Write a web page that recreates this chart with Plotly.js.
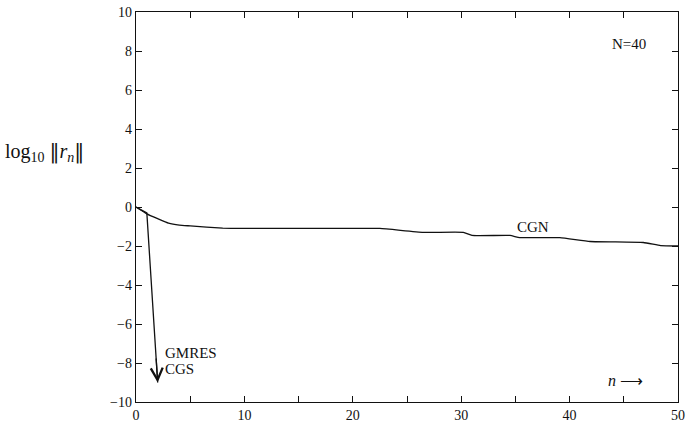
<!DOCTYPE html>
<html>
<head>
<meta charset="utf-8">
<script src="https://cdn.plot.ly/plotly-3.0.1.min.js"></script>
<style>html,body{margin:0;padding:0;background:#fff;}#chart{width:689px;height:425px;}</style>
</head>
<body>
<div id="chart"></div>
<script>
// CGN residual history
const cgnN = [0, 1, 2, 3, 4, 5, 8, 10, 15, 20, 22.5, 26.5, 30.2, 31, 34.5, 35.4, 39.1, 41.9, 46.8, 48.4, 50];
const cgnLog = [0, -0.35, -0.6, -0.83, -0.93, -0.97, -1.08, -1.1, -1.1, -1.1, -1.1, -1.3, -1.3, -1.46, -1.46, -1.57, -1.57, -1.77, -1.82, -1.98, -2.0];
// GMRES / CGS residual history (converge at n = 2)
const gmresN = [0, 1, 2];
const gmresLog = [0, -0.3, -9.0];
// axis ticks
const xTickVals = [0, 5, 10, 15, 20, 25, 30, 35, 40, 45, 50];
const xTickText = ['0', '', '10', '', '20', '', '30', '', '40', '', '50'];
const yTickVals = [-10, -8, -6, -4, -2, 0, 2, 4, 6, 8, 10];

const serif = 'Liberation Serif, Times New Roman, serif';
const ink = '#111';

const traces = [
  {x: cgnN, y: cgnLog, mode: 'lines', line: {color: ink, width: 1.3, shape: 'spline', smoothing: 0.4}, hoverinfo: 'skip'},
  {x: gmresN, y: gmresLog, mode: 'lines', line: {color: ink, width: 1.3}, hoverinfo: 'skip'}
];

const last = gmresN.length - 1;

const layout = {
  width: 689, height: 425,
  margin: {l: 136, r: 11, t: 12, b: 23},
  paper_bgcolor: '#fff', plot_bgcolor: '#fff',
  showlegend: false,
  font: {family: serif, color: ink, size: 15},
  xaxis: {range: [0, 50], tickvals: xTickVals, ticktext: xTickText, ticks: 'inside', ticklen: 6,
          tickcolor: ink, showline: true, linecolor: ink, linewidth: 1.2, mirror: 'allticks',
          showgrid: false, zeroline: false, tickfont: {family: serif, size: 14, color: ink}},
  yaxis: {range: [-10, 10], tickvals: yTickVals, ticks: 'inside', ticklen: 6,
          tickcolor: ink, showline: true, linecolor: ink, linewidth: 1.2, mirror: 'allticks',
          showgrid: false, zeroline: false, tickfont: {family: serif, size: 14, color: ink}},
  annotations: [
    {xref: 'x', yref: 'y', x: gmresN[last], y: gmresLog[last], axref: 'x', ayref: 'y',
     ax: gmresN[last - 1] + 0.85 * (gmresN[last] - gmresN[last - 1]),
     ay: gmresLog[last - 1] + 0.85 * (gmresLog[last] - gmresLog[last - 1]),
     showarrow: true, arrowhead: 5, arrowsize: 1.8, arrowwidth: 1.3, arrowcolor: ink, text: '', standoff: 0},
    {xref: 'paper', yref: 'paper', x: -0.245, y: 0.64, xanchor: 'left', yanchor: 'middle', showarrow: false,
     text: 'log<sub>10</sub> <span style="font-family:DejaVu Serif">‖</span><i>r<sub>n</sub></i><span style="font-family:DejaVu Serif">‖</span>',
     font: {family: serif, size: 20, color: ink}},
    {xref: 'x', yref: 'y', x: 2.45, y: -7.5, xanchor: 'left', showarrow: false, text: 'GMRES', font: {family: serif, size: 15, color: ink}},
    {xref: 'x', yref: 'y', x: 2.45, y: -8.3, xanchor: 'left', showarrow: false, text: 'CGS', font: {family: serif, size: 15, color: ink}},
    {xref: 'x', yref: 'y', x: 36.6, y: -1.05, showarrow: false, text: 'CGN', font: {family: serif, size: 15, color: ink}},
    {xref: 'x', yref: 'y', x: 45.5, y: 8.35, showarrow: false, text: 'N=40', font: {family: serif, size: 15, color: ink}},
    {xref: 'x', yref: 'y', x: 45.2, y: -8.9, showarrow: false, text: '<i>n</i> ⟶', font: {family: serif, size: 16, color: ink}}
  ]
};

Plotly.newPlot('chart', traces, layout, {staticPlot: true, displayModeBar: false});
</script>
</body>
</html>
